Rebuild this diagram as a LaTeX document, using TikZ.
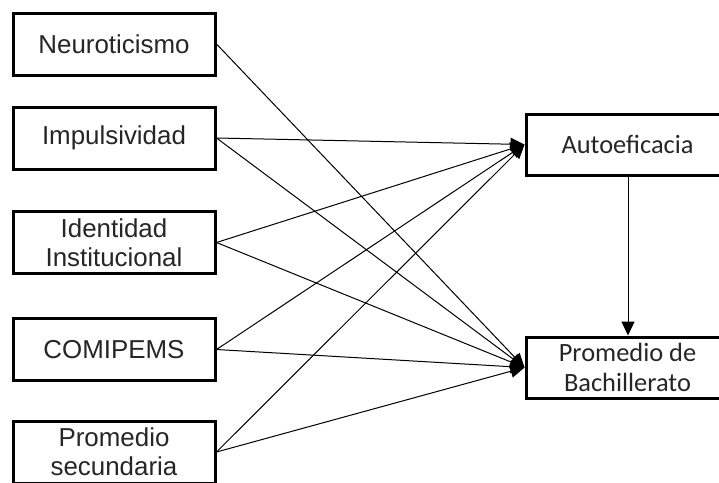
\documentclass[tikz,border=0pt]{standalone}
\usepackage{fontspec}
\setmainfont{Liberation Sans}
\newfontfamily\calib{Carlito}
\usetikzlibrary{arrows.meta}
\begin{document}
\begin{tikzpicture}[x=1pt,y=-1pt,
  leftbox/.style={draw=black,line width=3pt,minimum width=202pt,minimum height=62pt,inner sep=0pt,align=center,text=black!85,font=\fontsize{25.9}{29}\selectfont},
  rightbox/.style={draw=black,line width=3pt,minimum width=203pt,minimum height=61pt,inner sep=0pt,align=center,text=black!85,font=\calib\fontsize{26.4}{30}\selectfont},
  conn/.style={line width=1pt,-{Triangle[length=14pt,width=13pt]}}]
\useasboundingbox (0,0) rectangle (719,482);
\fill[white] (0,0) rectangle (719,482);
\clip (0,0) rectangle (719,482);
\node[leftbox] (neu) at (114,44) {Neuroticismo};
\node[leftbox] (imp) at (114,138) {Impulsividad};
\node[leftbox] (ide) at (114,242.5) {Identidad\\Institucional};
\node[leftbox] (com) at (114,349.5) {COMIPEMS};
\node[leftbox] (sec) at (114,452) {Promedio\\secundaria};
\node[rightbox] (aut) at (627.5,144.5) {Autoeficacia};
\node[rightbox] (bac) at (627.5,367.5) {Promedio de\\Bachillerato};
\draw[conn] (neu.east) -- (bac.west);
\draw[conn] (imp.east) -- (aut.west);
\draw[conn] (imp.east) -- (bac.west);
\draw[conn] (ide.east) -- (aut.west);
\draw[conn] (ide.east) -- (bac.west);
\draw[conn] (com.east) -- (aut.west);
\draw[conn] (com.east) -- (bac.west);
\draw[conn] (sec.east) -- (aut.west);
\draw[conn] (sec.east) -- (bac.west);
\draw[conn] (aut.south -| 628,0) -- (bac.north -| 628,0);
\end{tikzpicture}
\end{document}
